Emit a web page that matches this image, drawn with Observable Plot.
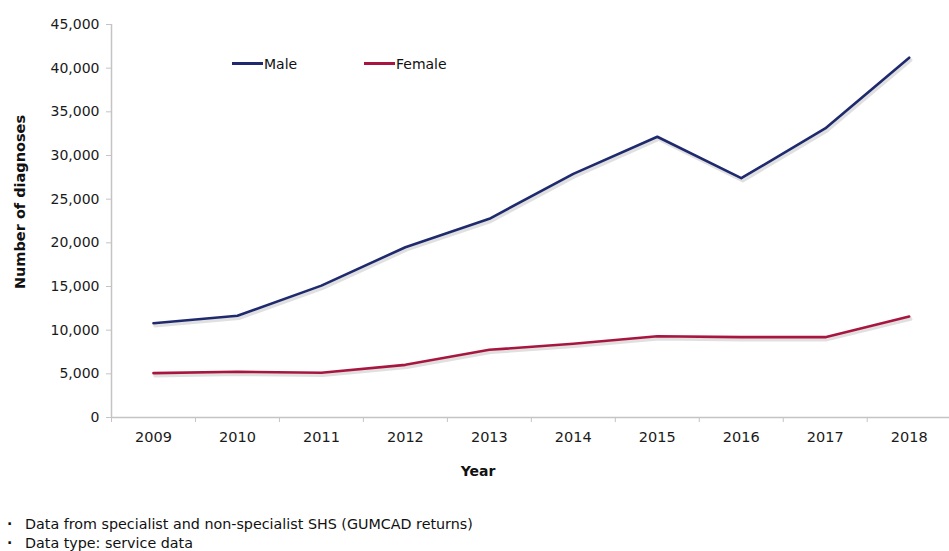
<!DOCTYPE html>
<html>
<head>
<meta charset="utf-8">
<script src="https://cdn.jsdelivr.net/npm/d3@7"></script>
<script src="https://cdn.jsdelivr.net/npm/@observablehq/plot@0.6"></script>
<style>
  body { margin: 0; background: #fff; font-family: "DejaVu Sans", sans-serif; }
  #wrap { position: relative; width: 949px; height: 551px; overflow: hidden; }
  .abs { position: absolute; white-space: nowrap; color: #111; line-height: 1; }
  .ytitle { transform: translate(-50%, -50%) rotate(-90deg); font-weight: bold; font-size: 14.5px; }
  .xtitle { transform: translate(-50%, -50%); font-weight: bold; font-size: 14px; }
  .leg { font-size: 14px; transform: translateY(-50%); }
  .legline { position: absolute; height: 3px; }
  .note { font-size: 14.3px; transform: translateY(-50%); }
  .bullet { font-size: 14px; font-weight: bold; transform: translateY(-50%); }
</style>
</head>
<body>
<div id="wrap"></div>
<script>
const years = [2009, 2010, 2011, 2012, 2013, 2014, 2015, 2016, 2017, 2018];
const male = [10800, 11650, 15100, 19500, 22750, 27900, 32150, 27400, 33100, 41200];
const female = [5080, 5230, 5120, 6030, 7750, 8440, 9310, 9200, 9200, 11560];
const yTicks = [0, 5000, 10000, 15000, 20000, 25000, 30000, 35000, 40000, 45000];
const seriesNames = ["Male", "Female"];
const seriesColors = ["#1f2a6e", "#a8163f"];
const notes = ["Data from specialist and non-specialist SHS (GUMCAD returns)", "Data type: service data"];

const rows = [];
years.forEach((yr, i) => {
  rows.push({year: yr, value: male[i], series: seriesNames[0]});
  rows.push({year: yr, value: female[i], series: seriesNames[1]});
});
const boundaries = years.map(y => y - 0.5);

const chart = Plot.plot({
  width: 949,
  height: 490,
  marginLeft: 111,
  marginRight: 0,
  marginTop: 24,
  marginBottom: 73,
  style: {fontFamily: "'DejaVu Sans', sans-serif", fontSize: "14px", color: "#1a1a1a", background: "#fff"},
  x: {domain: [2008.5, 2018.48]},
  y: {domain: [0, 45000]},
  color: {domain: seriesNames, range: seriesColors},
  marks: [
    Plot.ruleX([2008.5], {stroke: "#c4c4c4", strokeWidth: 1.5}),
    Plot.ruleY([0], {stroke: "#c4c4c4", strokeWidth: 1.5}),
    Plot.axisY({ticks: yTicks, tickFormat: d3.format(","), tickSize: 5, tickPadding: 7, stroke: "#c4c4c4", label: null, fontSize: 14}),
    Plot.axisX({ticks: boundaries, tickFormat: () => "", tickSize: 5, stroke: "#c4c4c4", label: null}),
    Plot.axisX({ticks: years, tickFormat: d => String(d), tickSize: 0, tickPadding: 14, label: null, fontSize: 14.5}),
    Plot.line(rows, {x: "year", y: "value", z: "series", stroke: "#000", strokeOpacity: 0.12, strokeWidth: 3.5, dx: 1.5, dy: 2.5}),
    Plot.line(rows, {x: "year", y: "value", z: "series", stroke: "series", strokeWidth: 2.6})
  ]
});

const wrap = document.getElementById("wrap");
wrap.appendChild(chart);

function addDiv(cls, text, left, top) {
  const d = document.createElement("div");
  d.className = "abs " + cls;
  d.textContent = text;
  d.style.left = left + "px";
  d.style.top = top + "px";
  wrap.appendChild(d);
  return d;
}
addDiv("ytitle", "Number of diagnoses", 20, 202);
addDiv("xtitle", "Year", 478, 471);

// legend
const legX = [232, 364];
seriesNames.forEach((name, i) => {
  const l = document.createElement("div");
  l.className = "legline";
  l.style.left = legX[i] + "px";
  l.style.top = "62px";
  l.style.width = "31px";
  l.style.background = seriesColors[i];
  wrap.appendChild(l);
  addDiv("leg", name, legX[i] + 32, 64);
});

// notes
notes.forEach((t, i) => {
  addDiv("bullet", "·", 7, 524 + i * 19);
  addDiv("note", t, 25, 524 + i * 19);
});
</script>
</body>
</html>
